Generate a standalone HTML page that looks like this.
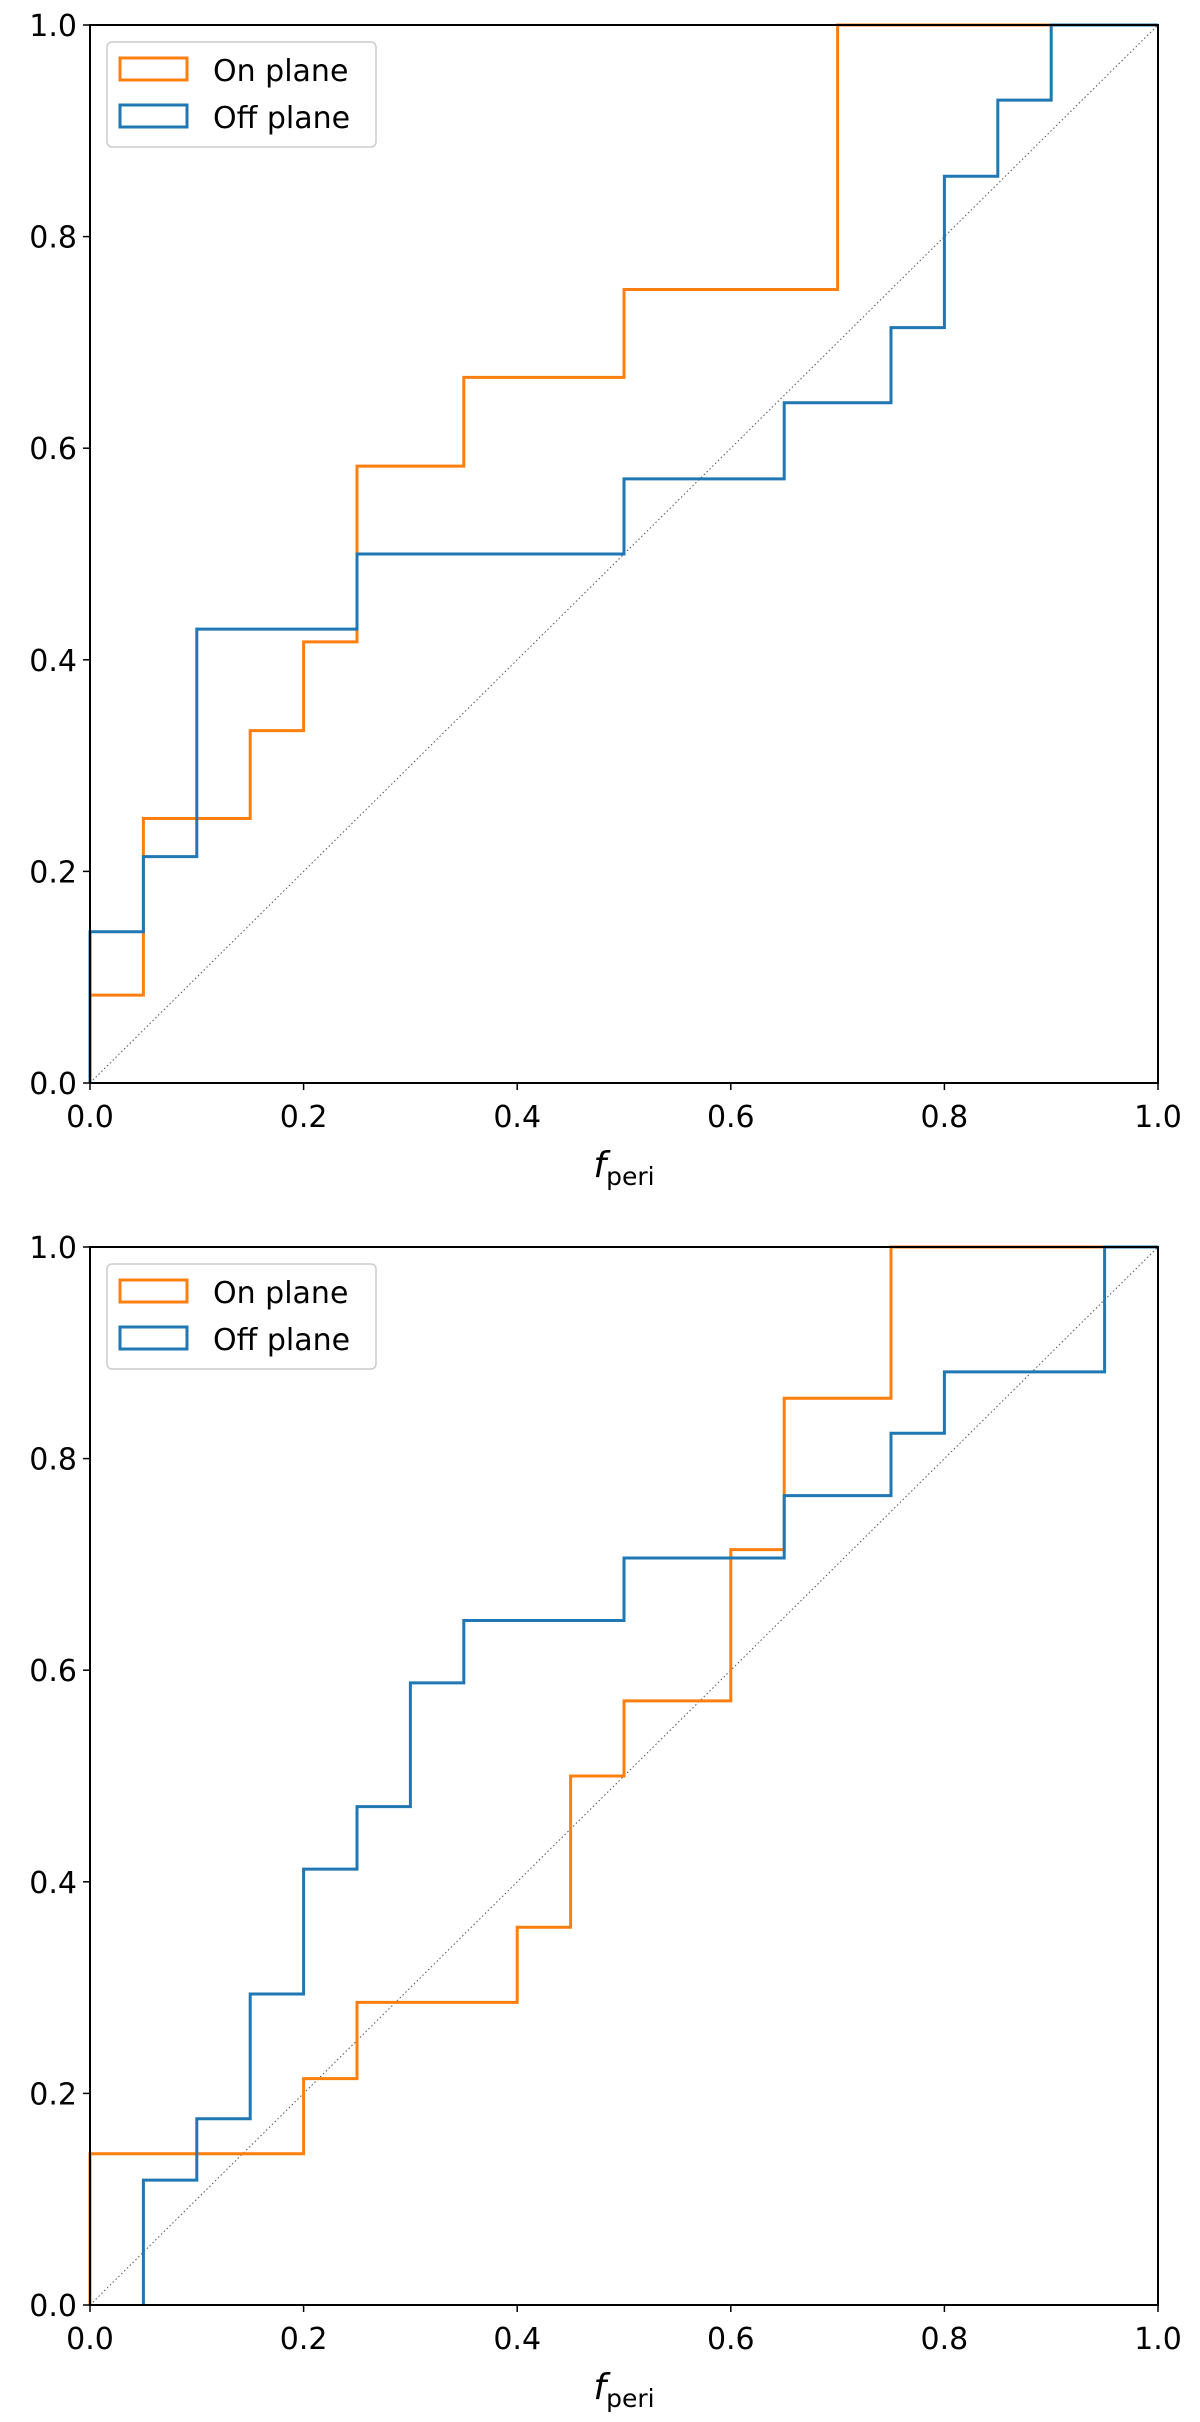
<!DOCTYPE html>
<html><head><meta charset="utf-8"><style>
body{margin:0;background:#fff;}
svg{display:block;font-family:"DejaVu Sans","Liberation Sans",sans-serif;}
</style></head><body>
<svg id="fig" width="1200" height="2422" viewBox="0 0 1200 2422" xmlns="http://www.w3.org/2000/svg"></svg>
<script>
// Panel 1 data (cumulative step fractions at bin edges)
const top_on_x = [0, 0.05, 0.15, 0.2, 0.25, 0.35, 0.5, 0.7];
const top_on_y = [0.083, 0.25, 0.333, 0.417, 0.583, 0.667, 0.75, 1.0];
const top_off_x = [0, 0.05, 0.1, 0.25, 0.5, 0.65, 0.75, 0.8, 0.85, 0.9];
const top_off_y = [0.143, 0.214, 0.429, 0.5, 0.571, 0.643, 0.714, 0.857, 0.929, 1.0];
// Panel 2 data
const bot_on_x = [0, 0.2, 0.25, 0.4, 0.45, 0.5, 0.6, 0.65, 0.75];
const bot_on_y = [0.143, 0.214, 0.286, 0.357, 0.5, 0.571, 0.714, 0.857, 1.0];
const bot_off_x = [0.05, 0.1, 0.15, 0.2, 0.25, 0.3, 0.35, 0.5, 0.65, 0.75, 0.8, 0.95];
const bot_off_y = [0.118, 0.176, 0.294, 0.412, 0.471, 0.588, 0.647, 0.706, 0.765, 0.824, 0.882, 1.0];
const tickVals = [0, 0.2, 0.4, 0.6, 0.8, 1.0];
const tickLabels = ["0.0", "0.2", "0.4", "0.6", "0.8", "1.0"];

const NS = "http://www.w3.org/2000/svg";
const svg = document.getElementById("fig");
function mk(tag, attrs, parent) {
  const e = document.createElementNS(NS, tag);
  for (const k in attrs) e.setAttribute(k, attrs[k]);
  (parent || svg).appendChild(e);
  return e;
}
const ORANGE = "#ff7f0e", BLUE = "#1f77b4";

function panel(y0, onX, onY, offX, offY, idx) {
  const L = 90, R = 1158, T = y0, B = y0 + 1058;
  const sx = v => L + v * (R - L);
  const sy = v => B - v * (B - T);
  const g = mk("g", {});
  
  
  const d = mk("line", {x1: sx(0), y1: sy(0), x2: sx(1), y2: sy(1), stroke: "#555", "stroke-width": 1, "stroke-dasharray": "1.5,2.5"}, g);
  
  
  function step(xs, ys, color, name) {
    let p = "M" + sx(xs[0]) + "," + sy(0);
    for (let i = 0; i < xs.length; i++) {
      const xNext = i + 1 < xs.length ? xs[i + 1] : 1;
      p += " L" + sx(xs[i]) + "," + sy(ys[i]) + " L" + sx(xNext) + "," + sy(ys[i]);
    }
    const e = mk("path", {d: p, fill: "none", stroke: color, "stroke-width": 3, "stroke-linejoin": "miter"}, g);
    
    
  }
  step(onX, onY, ORANGE, 'on-plane-series');
  step(offX, offY, BLUE, 'off-plane-series');
  const fr = mk("rect", {x: L, y: T, width: R - L, height: B - T, fill: "none", stroke: "#000", "stroke-width": 2}, g);
  
  
  for (let i = 0; i < tickVals.length; i++) {
    const v = tickVals[i];
    mk("line", {x1: sx(v), y1: B, x2: sx(v), y2: B + 7, stroke: "#000", "stroke-width": 1.5}, g);
    const tx = mk("text", {x: sx(v), y: B + 44, "font-size": 30, "text-anchor": "middle", fill: "#000"}, g);
    tx.textContent = tickLabels[i];
    
    
    mk("line", {x1: L - 7, y1: sy(v), x2: L, y2: sy(v), stroke: "#000", "stroke-width": 1.5}, g);
    const ty = mk("text", {x: L - 13, y: sy(v) + 11, "font-size": 30, "text-anchor": "end", fill: "#000"}, g);
    ty.textContent = tickLabels[i];
    
    
  }
  const xl = mk("text", {x: 624, y: B + 94, "font-size": 36, "text-anchor": "middle", fill: "#000"}, g);
  
  
  const t1 = mk("tspan", {"font-style": "italic"}, xl); t1.textContent = "f";
  const t2 = mk("tspan", {"font-size": 25, dy: 8}, xl); t2.textContent = "peri";
  const lg = mk("g", {}, g);
  
  
  mk("rect", {x: 107, y: T + 17, width: 269, height: 105, rx: 5, fill: "#fff", "fill-opacity": 0.8, stroke: "#ccc", "stroke-width": 1.5}, lg);
  const e1 = mk("g", {}, lg);
  
  
  mk("rect", {x: 120, y: T + 33, width: 67, height: 22, fill: "none", stroke: ORANGE, "stroke-width": 3}, e1);
  const l1 = mk("text", {x: 213, y: T + 56, "font-size": 30, fill: "#000"}, e1); l1.textContent = "On plane";
  const e2 = mk("g", {}, lg);
  
  
  mk("rect", {x: 120, y: T + 80, width: 67, height: 22, fill: "none", stroke: BLUE, "stroke-width": 3}, e2);
  const l2 = mk("text", {x: 213, y: T + 103, "font-size": 30, fill: "#000"}, e2); l2.textContent = "Off plane";
}
panel(25, top_on_x, top_on_y, top_off_x, top_off_y, 1);
panel(1247, bot_on_x, bot_on_y, bot_off_x, bot_off_y, 2);
</script>
</body></html>
